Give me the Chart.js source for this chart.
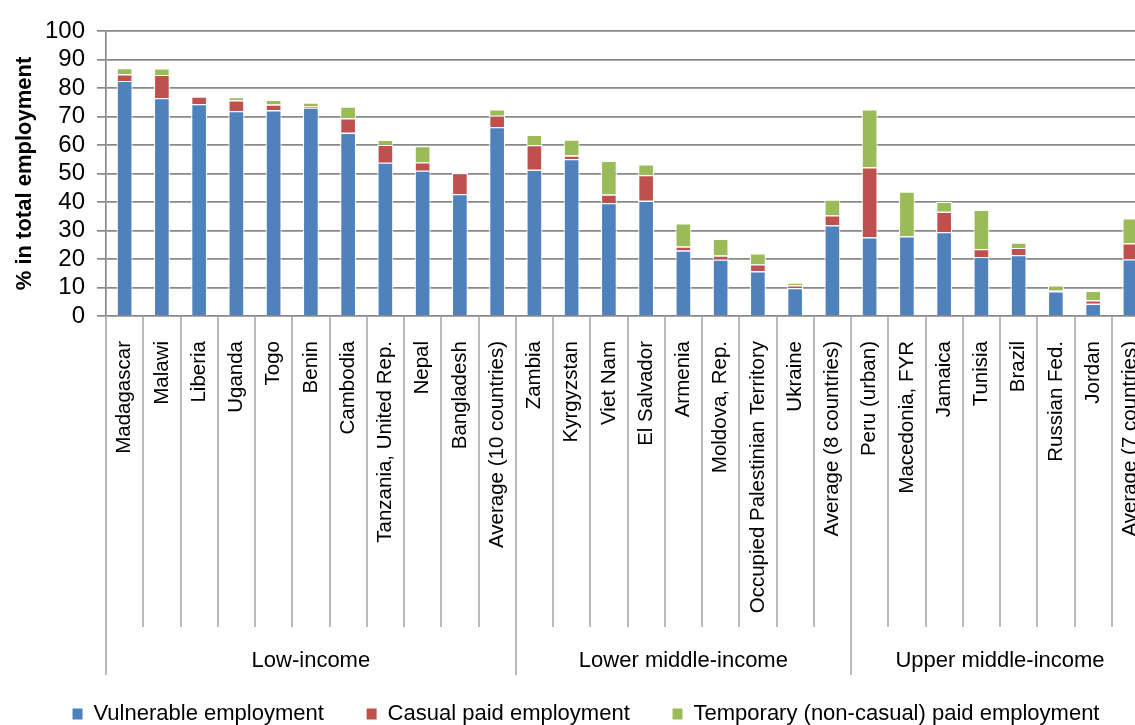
<!DOCTYPE html>
<html>
<head>
<meta charset="utf-8">
<script src="https://cdn.jsdelivr.net/npm/chart.js@4.4.1/dist/chart.umd.min.js"></script>
<style>
  html, body { margin: 0; padding: 0; background: #fff; overflow: hidden; }
  #wrap { width: 1172px; height: 735px; }
</style>
</head>
<body>
<div id="wrap"><canvas id="empChart" width="1172" height="735"></canvas></div>
<script>
// data
var categories = [
  "Madagascar", "Malawi", "Liberia", "Uganda", "Togo", "Benin", "Cambodia",
  "Tanzania, United Rep.", "Nepal", "Bangladesh", "Average (10 countries)",
  "Zambia", "Kyrgyzstan", "Viet Nam", "El Salvador", "Armenia", "Moldova, Rep.",
  "Occupied Palestinian Territory", "Ukraine", "Average (8 countries)",
  "Peru (urban)", "Macedonia, FYR", "Jamaica", "Tunisia", "Brazil",
  "Russian Fed.", "Jordan", "Average (7 countries)"
];
var groupLabels = ["Low-income", "Lower middle-income", "Upper middle-income"];
var groupSizes = [11, 9, 8];

var vulnerable = [82.5, 76.5, 74.4, 71.9, 72.2, 73.1, 64.3, 53.8, 51.0, 42.8, 66.3,
                  51.3, 55.1, 39.6, 40.4, 23.0, 19.8, 15.7, 9.8, 31.8,
                  27.6, 28.0, 29.5, 20.7, 21.4, 8.7, 4.3, 19.9];
var casual = [2.3, 8.1, 2.6, 3.8, 2.0, 0.4, 5.1, 6.3, 2.9, 7.4, 4.0,
              8.7, 1.2, 3.0, 9.1, 1.4, 1.4, 2.4, 1.0, 3.5,
              24.6, 0, 7.1, 2.8, 2.5, 0.3, 1.2, 5.6];
var temporary = [2.2, 2.3, 0, 1.1, 1.7, 1.4, 4.1, 1.7, 5.7, 0, 2.2,
                 3.6, 5.6, 11.9, 3.7, 8.1, 5.9, 3.9, 0.9, 5.6,
                 20.3, 15.7, 3.5, 13.8, 1.9, 1.8, 3.3, 8.8];
var yTicks = { min: 0, max: 100, step: 10 };

var textFont = '"Liberation Sans", Arial, Helvetica, sans-serif';

// separators under the category labels + income group names
var groupAxis = {
  id: 'groupAxis',
  afterDraw: function(chart) {
    var ctx = chart.ctx, x = chart.scales.x, y = chart.scales.y;
    var top = y.bottom;
    var half = (x.getPixelForValue(1) - x.getPixelForValue(0)) / 2;
    var catBottom = top + 311, grpBottom = top + 359;
    ctx.save();
    ctx.strokeStyle = '#a3a3a3';
    ctx.lineWidth = 1.5;
    ctx.beginPath();
    ctx.moveTo(x.left, top);
    ctx.lineTo(x.left, grpBottom);
    ctx.stroke();
    var start = 0;
    ctx.fillStyle = '#000';
    ctx.font = '22px ' + textFont;
    ctx.textAlign = 'center';
    ctx.textBaseline = 'middle';
    groupSizes.forEach(function(n, g) {
      for (var i = start; i < start + n; i++) {
        var xe = Math.round(x.getPixelForValue(i) + half);
        ctx.beginPath();
        ctx.moveTo(xe, top);
        ctx.lineTo(xe, i === start + n - 1 ? grpBottom : catBottom);
        ctx.stroke();
      }
      var cx = (x.getPixelForValue(start) + x.getPixelForValue(start + n - 1)) / 2;
      ctx.fillText(groupLabels[g], cx, top + 345);
      start += n;
    });
    ctx.restore();
  }
};

var ctx = document.getElementById('empChart');
new Chart(ctx, {
  type: 'bar',
  data: {
    labels: categories,
    datasets: [
      { label: 'Vulnerable employment', data: vulnerable, backgroundColor: '#4F81BD' },
      { label: 'Casual paid employment', data: casual, backgroundColor: '#C0504D' },
      { label: 'Temporary (non-casual) paid employment', data: temporary, backgroundColor: '#9BBB59' }
    ]
  },
  options: {
    responsive: false,
    animation: false,
    layout: { padding: { top: 31, left: 0, right: 0, bottom: 0 } },
    datasets: {
      bar: {
        borderColor: '#ffffff',
        borderWidth: 1.2,
        barPercentage: 0.43,
        categoryPercentage: 1.0
      }
    },
    scales: {
      x: {
        stacked: true,
        grid: { display: false },
        border: { display: false },
        ticks: {
          autoSkip: false,
          minRotation: 90,
          maxRotation: 90,
          padding: 17,
          color: '#000',
          font: { family: textFont, size: 20.5 }
        },
        afterFit: function(scale) {
          var leg = scale.chart.legend;
          scale.height = scale.chart.height - 316 - (leg ? leg.height : 0);
        }
      },
      y: {
        stacked: true,
        min: yTicks.min,
        max: yTicks.max,
        grid: { color: '#898989', lineWidth: 1.7, tickLength: 9 },
        border: { color: '#898989', width: 1.7 },
        ticks: {
          stepSize: yTicks.step,
          autoSkip: false,
          padding: 12,
          color: '#000',
          font: { family: textFont, size: 24 }
        },
        title: {
          display: true,
          text: '% in total employment',
          color: '#000',
          padding: { top: 12, bottom: 0 },
          font: { family: textFont, size: 22, weight: 'bold' }
        },
        afterFit: function(scale) { scale.width = 106; }
      }
    },
    plugins: {
      legend: {
        position: 'bottom',
        labels: {
          boxWidth: 10,
          boxHeight: 11,
          padding: 0,
          color: '#000',
          font: { family: textFont, size: 22 },
          generateLabels: function(chart) {
            var items = Chart.defaults.plugins.legend.labels.generateLabels(chart);
            items.forEach(function(it, i) {
              it.lineWidth = 0;
              if (i < items.length - 1) it.text = it.text + '       ';
            });
            return items;
          }
        }
      },
      tooltip: { enabled: false }
    }
  },
  plugins: [groupAxis]
});
</script>
</body>
</html>
